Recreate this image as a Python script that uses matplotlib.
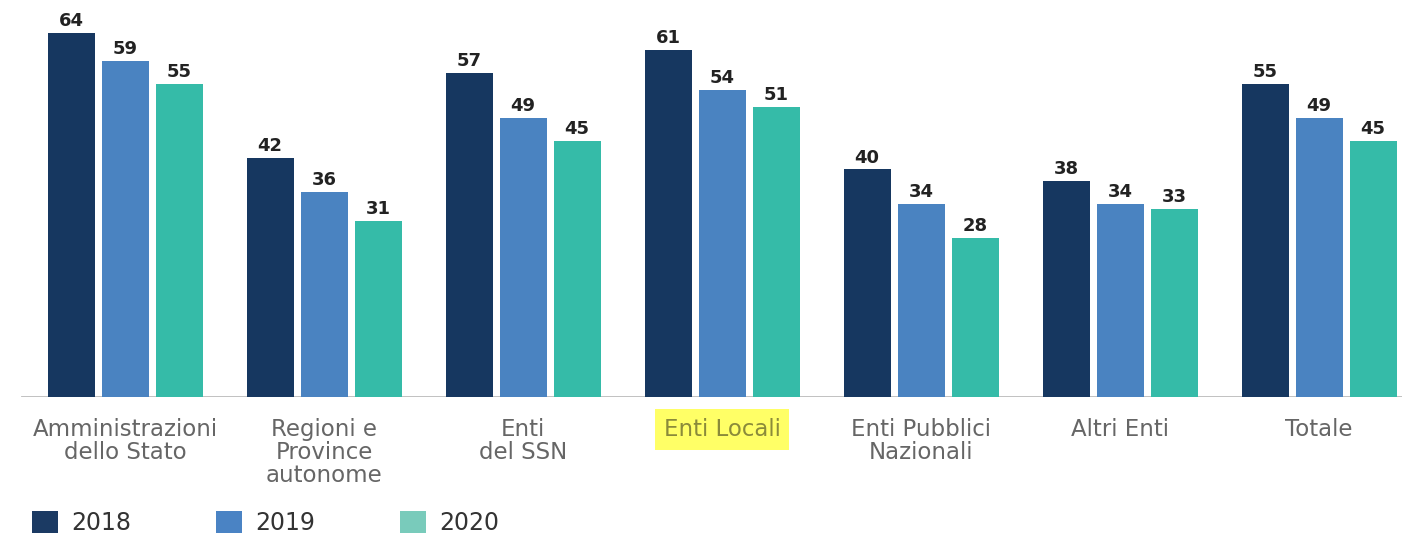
import matplotlib.pyplot as plt
from matplotlib.patches import Patch
import numpy as np

categories = ["Amministrazioni\ndello Stato", "Regioni e\nProvince\nautonome", "Enti\ndel SSN",
              "Enti Locali", "Enti Pubblici\nNazionali", "Altri Enti", "Totale"]
years = ["2018", "2019", "2020"]
v2018 = [64, 42, 57, 61, 40, 38, 55]
v2019 = [59, 36, 49, 54, 34, 34, 49]
v2020 = [55, 31, 45, 51, 28, 33, 45]

bar_colors = ["#163760", "#4a83c1", "#35bba8"]
legend_colors = ["#1b3a63", "#4a83c4", "#79cbbb"]

fig = plt.figure(figsize=(14.02, 5.4), dpi=100)
ax = fig.add_axes([0, 143 / 540, 1, 397 / 540], frameon=False)

x = np.arange(len(categories))
w = 47 / 199
step = 54 / 199
for i, vals in enumerate([v2018, v2019, v2020]):
    bars = ax.bar(x + (i - 1) * step, vals, width=w, color=bar_colors[i], zorder=3)
    for b, v in zip(bars, vals):
        ax.text(b.get_x() + b.get_width() / 2, v + 0.5, str(v), ha="center", va="bottom",
                fontsize=13, fontweight="bold", color="#222222")

ax.set_xlim(-125 / 199, (1402 - 125) / 199)
ax.set_ylim(0, 397 / 5.69)
ax.axhline(0, xmin=22 / 1402, xmax=1, color="#bbbbbb", lw=2, zorder=2)
ax.set_yticks([])
ax.set_xticks(x)
ax.set_xticklabels(categories, fontsize=16.5, color="#666666", linespacing=1.0)
ax.tick_params(axis="x", length=0, pad=15)

# highlight on "Enti Locali"
lbl = ax.get_xticklabels()[3]
lbl.set_color("#8a8a3a")
lbl.set_bbox(dict(facecolor="#ffff66", edgecolor="none", boxstyle="square,pad=0.38"))

handles = [Patch(facecolor=c) for c in legend_colors]
fig.legend(handles, years, loc="lower left", bbox_to_anchor=(0.008, -0.03), ncol=3,
           frameon=False, fontsize=17, handlelength=1.1, handleheight=1.1,
           columnspacing=3.6, handletextpad=0.55, labelcolor="#333333")

fig.savefig("out.png", dpi=100)
